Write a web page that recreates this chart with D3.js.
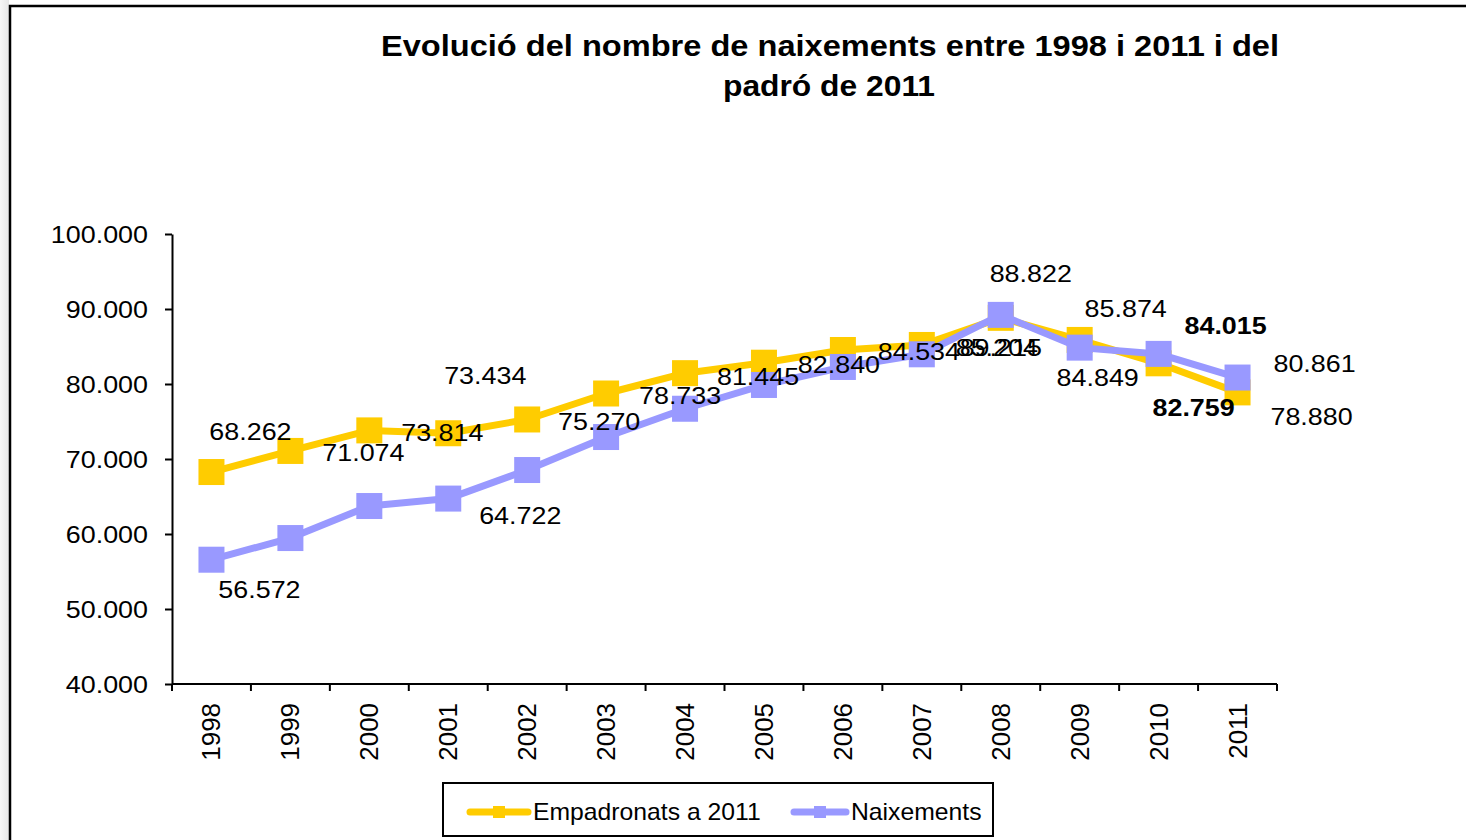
<!DOCTYPE html>
<html>
  <head>
    <meta charset="utf-8">
    <script src="https://d3js.org/d3.v7.min.js"></script>
    <style>
      body { margin: 0; background: #fff; font-family: "Liberation Sans", Arial, sans-serif; }
      svg text { font-family: "Liberation Sans", Arial, sans-serif; fill: #000; }
    </style>
  </head>
  <body>
    <svg id="chart" width="1466" height="840"></svg>
    <script>
      // data
      var years = ["1998","1999","2000","2001","2002","2003","2004","2005","2006","2007","2008","2009","2010","2011"];
      var empadronats = [68262, 71074, 73814, 73434, 75270, 78733, 81445, 82840, 84534, 85204, 88822, 85874, 82759, 78880];
      var naixements  = [56572, 59460, 63730, 64722, 68530, 72930, 76700, 79870, 82270, 83960, 89215, 84849, 84015, 80861];
      var yTicks = [40000, 50000, 60000, 70000, 80000, 90000, 100000];

      // which points carry a label, and where the label was dragged to (px from the point)
      var empLabels = [
        {i: 0, dx: 39, dy: -40}, {i: 1, dx: 73, dy: 2}, {i: 2, dx: 73, dy: 2},
        {i: 3, dx: 37, dy: -58}, {i: 4, dx: 72, dy: 2}, {i: 5, dx: 74, dy: 2},
        {i: 6, dx: 73, dy: 3}, {i: 7, dx: 75, dy: 2}, {i: 8, dx: 76, dy: 2},
        {i: 9, dx: 75, dy: 3}, {i: 10, dx: 30, dy: -44}, {i: 11, dx: 46, dy: -31},
        {i: 12, dx: 35, dy: 44, bold: true}, {i: 13, dx: 74, dy: 24}
      ];
      var naixLabels = [
        {i: 0, dx: 48, dy: 30}, {i: 3, dx: 72, dy: 17}, {i: 10, dx: 0, dy: 33},
        {i: 11, dx: 18, dy: 30}, {i: 12, dx: 67, dy: -28, bold: true}, {i: 13, dx: 77, dy: -14}
      ];

      var fmt = function(v) { return d3.format(",")(v).replace(/,/g, "."); };
      var stretch = 1.12; // the original picture is a bit wider than tall

      var svg = d3.select("#chart");

      // light shadow on the left and the outer frame
      var grad = svg.append("defs").append("linearGradient").attr("id", "shade");
      grad.append("stop").attr("offset", "0").attr("stop-color", "#f6f6f6");
      grad.append("stop").attr("offset", "1").attr("stop-color", "#e6e6e6");
      svg.append("rect").attr("x", 0).attr("y", 0).attr("width", 9).attr("height", 840).attr("fill", "url(#shade)");
      svg.append("rect").attr("x", 10).attr("y", 6).attr("width", 1470).attr("height", 850)
        .attr("fill", "#fff").attr("stroke", "#000").attr("stroke-width", 2.5);

      // title
      var title = svg.append("text").attr("font-weight", "bold").attr("font-size", 29).attr("text-anchor", "middle");
      title.append("tspan").attr("x", 830).attr("y", 56).attr("textLength", 898).attr("lengthAdjust", "spacingAndGlyphs")
        .text("Evolució del nombre de naixements entre 1998 i 2011 i del");
      title.append("tspan").attr("x", 829).attr("y", 96).attr("textLength", 212).attr("lengthAdjust", "spacingAndGlyphs")
        .text("padró de 2011");

      var x = d3.scaleBand().domain(years).range([172, 1277]);
      var y = d3.scaleLinear().domain([40000, 100000]).range([684, 234]);
      var cx = function(i) { return x(years[i]) + x.bandwidth() / 2; };

      // y axis
      var yAxis = svg.append("g").attr("transform", "translate(172,0)")
        .call(d3.axisLeft(y).tickValues(yTicks).tickSize(7).tickSizeOuter(0).tickFormat(fmt));
      yAxis.select(".domain").attr("stroke", "#000").attr("stroke-width", 2);
      yAxis.selectAll(".tick line").attr("stroke", "#000").attr("stroke-width", 2);
      yAxis.selectAll(".tick text").attr("font-size", 24).attr("x", 0).attr("dy", "0.35em")
        .attr("transform", "translate(-24,0) scale(" + stretch + ",1)");

      // x axis: ticks sit between categories
      var xAxis = svg.append("g").attr("transform", "translate(0,684)");
      xAxis.append("line").attr("x1", 172).attr("x2", 1277).attr("stroke", "#000").attr("stroke-width", 2);
      xAxis.selectAll("line.tk").data(years.concat(["end"])).join("line").attr("class", "tk")
        .attr("x1", function(d, i) { return i < years.length ? x(d) : x.range()[1]; })
        .attr("x2", function(d, i) { return i < years.length ? x(d) : x.range()[1]; })
        .attr("y1", 0).attr("y2", 7).attr("stroke", "#000").attr("stroke-width", 2);
      xAxis.selectAll("text").data(years).join("text")
        .attr("font-size", 24).attr("text-anchor", "end")
        .attr("transform", function(d) { return "translate(" + (x(d) + x.bandwidth() / 2 + 9) + ",19) rotate(-90) scale(1.08,1.1)"; })
        .text(function(d) { return d; });

      var line = d3.line().x(function(d, i) { return cx(i); }).y(function(d) { return y(d); });

      function drawSeries(values, color) {
        var g = svg.append("g");
        g.append("path").datum(values).attr("d", line).attr("fill", "none")
          .attr("stroke", color).attr("stroke-width", 7).attr("stroke-linejoin", "round");
        g.selectAll("rect").data(values).join("rect")
          .attr("x", function(d, i) { return cx(i) - 13; })
          .attr("y", function(d) { return y(d) - 13; })
          .attr("width", 26).attr("height", 26).attr("fill", color);
      }
      drawSeries(empadronats, "#FFCC00");
      drawSeries(naixements, "#9999FF");

      function drawLabels(values, labels) {
        svg.append("g").selectAll("text").data(labels).join("text")
          .attr("font-size", 24).attr("text-anchor", "middle").attr("dy", "0.35em")
          .attr("font-weight", function(d) { return d.bold ? "bold" : "normal"; })
          .attr("transform", function(d) {
            return "translate(" + (cx(d.i) + d.dx) + "," + (y(values[d.i]) + d.dy) + ") scale(" + stretch + ",1)";
          })
          .text(function(d) { return fmt(values[d.i]); });
      }
      drawLabels(empadronats, empLabels);
      drawLabels(naixements, naixLabels);

      // legend
      var legend = svg.append("g");
      legend.append("rect").attr("x", 443).attr("y", 783).attr("width", 550).attr("height", 53)
        .attr("fill", "#fff").attr("stroke", "#000").attr("stroke-width", 2);
      var items = [
        {name: "Empadronats a 2011", color: "#FFCC00", x0: 470, x1: 528},
        {name: "Naixements", color: "#9999FF", x0: 794, x1: 846}
      ];
      items.forEach(function(it) {
        legend.append("line").attr("x1", it.x0).attr("x2", it.x1).attr("y1", 812).attr("y2", 812)
          .attr("stroke", it.color).attr("stroke-width", 7).attr("stroke-linecap", "round");
        legend.append("rect").attr("x", (it.x0 + it.x1) / 2 - 6).attr("y", 806).attr("width", 12).attr("height", 12)
          .attr("fill", it.color);
        legend.append("text").attr("x", 0).attr("font-size", 24).attr("dy", "0.35em")
          .attr("transform", "translate(" + (it.x1 + 5) + ",812) scale(1.03,1)")
          .text(it.name);
      });
    </script>
  </body>
</html>
